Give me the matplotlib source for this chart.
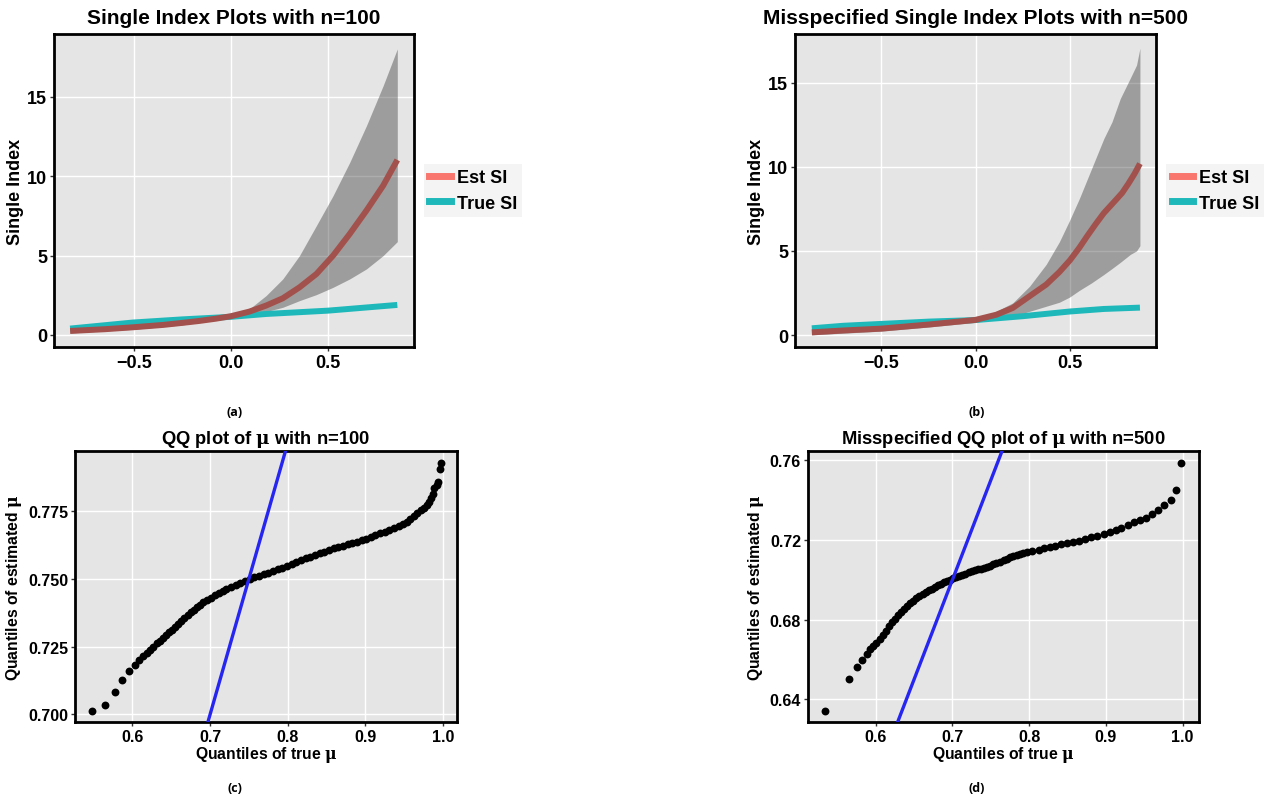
import numpy as np
import matplotlib
matplotlib.use("Agg")
import matplotlib.pyplot as plt
from matplotlib.lines import Line2D

plt.rcParams["font.family"] = ["Liberation Sans", "DejaVu Sans"]
plt.rcParams["font.weight"] = "bold"
plt.rcParams["mathtext.fontset"] = "dejavuserif"

# ---- data: single index plots (a) n=100 ----
a_x = [-0.829, -0.65, -0.506, -0.35, -0.25, -0.164, -0.08, 0.0, 0.095, 0.181, 0.267,
       0.353, 0.44, 0.526, 0.612, 0.698, 0.784, 0.857]
a_est = [0.25, 0.36, 0.48, 0.63, 0.76, 0.88, 1.02, 1.18, 1.47, 1.85, 2.31,
         3.00, 3.84, 5.00, 6.37, 7.84, 9.41, 11.03]
a_band_x = [-0.829, -0.506, -0.25, 0.0, 0.095, 0.181, 0.267, 0.353, 0.44, 0.526, 0.612, 0.698, 0.784, 0.857]
a_upper = [0.38, 0.61, 0.89, 1.25, 1.64, 2.48, 3.53, 5.00, 6.89, 8.78, 10.88, 13.19, 15.71, 18.03]
a_lower = [0.12, 0.35, 0.63, 1.08, 1.28, 1.47, 1.74, 2.16, 2.54, 3.00, 3.53, 4.16, 5.00, 5.88]
a_true_x = [-0.829, -0.506, -0.25, 0.0, 0.181, 0.5, 0.857]
a_true = [0.40, 0.78, 0.98, 1.14, 1.32, 1.53, 1.89]

# ---- data: misspecified single index plots (b) n=500 ----
b_x = [-0.866, -0.7, -0.5, -0.243, 0.0, 0.111, 0.197, 0.286, 0.374, 0.444, 0.5, 0.55,
       0.592, 0.636, 0.679, 0.744, 0.776, 0.809, 0.842, 0.87]
b_est = [0.16, 0.27, 0.38, 0.63, 0.90, 1.21, 1.61, 2.31, 3.00, 3.75, 4.45, 5.20,
         5.90, 6.60, 7.25, 8.05, 8.45, 9.00, 9.60, 10.19]
b_band_x = [-0.866, -0.5, -0.243, 0.0, 0.092, 0.197, 0.286, 0.374, 0.444, 0.497,
            0.549, 0.614, 0.679, 0.722, 0.766, 0.82, 0.852, 0.87]
b_upper = [0.31, 0.53, 0.78, 1.05, 1.31, 1.91, 2.90, 4.20, 5.55, 6.80,
           8.10, 9.89, 11.68, 12.67, 14.06, 15.30, 16.05, 17.05]
b_lower = [0.01, 0.23, 0.48, 0.75, 0.95, 1.11, 1.41, 1.71, 1.95, 2.25,
           2.65, 3.10, 3.60, 3.95, 4.32, 4.80, 5.00, 5.31]
b_true_x = [-0.866, -0.7, -0.5, -0.243, 0.0, 0.25, 0.5, 0.679, 0.87]
b_true = [0.40, 0.55, 0.66, 0.80, 0.89, 1.12, 1.40, 1.55, 1.63]

# ---- data: QQ plot (c) n=100 ----
c_true = [0.548, 0.565, 0.577, 0.586, 0.595, 0.603, 0.609, 0.614, 0.619, 0.623, 0.627, 0.631,
          0.635, 0.639, 0.643, 0.647, 0.651, 0.655, 0.659, 0.663, 0.667, 0.671, 0.675, 0.679,
          0.683, 0.687, 0.691, 0.696, 0.701, 0.706, 0.711, 0.716, 0.721, 0.727, 0.733, 0.739,
          0.745, 0.751, 0.757, 0.763, 0.769, 0.775, 0.781, 0.787, 0.793, 0.799, 0.805, 0.811,
          0.817, 0.823, 0.829, 0.835, 0.841, 0.847, 0.853, 0.859, 0.865, 0.871, 0.877, 0.883,
          0.889, 0.895, 0.901, 0.907, 0.913, 0.919, 0.925, 0.931, 0.937, 0.943, 0.948, 0.953,
          0.958, 0.963, 0.967, 0.971, 0.975, 0.979, 0.982, 0.985, 0.987, 0.989, 0.992, 0.994,
          0.996, 0.997]
c_est = [0.7012, 0.7034, 0.7082, 0.7128, 0.7160, 0.7182, 0.7200, 0.7215, 0.7228, 0.7238, 0.7250, 0.7262,
         0.7272, 0.7282, 0.7293, 0.7303, 0.7313, 0.7323, 0.7334, 0.7345, 0.7355, 0.7366, 0.7376, 0.7386,
         0.7395, 0.7404, 0.7413, 0.7422, 0.7431, 0.7439, 0.7447, 0.7455, 0.7463, 0.7471, 0.7478, 0.7485,
         0.7492, 0.7499, 0.7505, 0.7511, 0.7517, 0.7523, 0.7529, 0.7535, 0.7541, 0.7547, 0.7554, 0.7561,
         0.7568, 0.7575, 0.7582, 0.7588, 0.7594, 0.7600, 0.7606, 0.7612, 0.7617, 0.7622, 0.7627, 0.7632,
         0.7637, 0.7642, 0.7647, 0.7654, 0.7661, 0.7667, 0.7673, 0.7680, 0.7687, 0.7694, 0.7703, 0.7711,
         0.7722, 0.7733, 0.7743, 0.7752, 0.7762, 0.7772, 0.7784, 0.7799, 0.7812, 0.7836, 0.7846, 0.7856,
         0.7903, 0.7928]

# ---- data: misspecified QQ plot (d) n=500 ----
d_true = [0.534, 0.565, 0.576, 0.582, 0.588, 0.593, 0.597, 0.601, 0.605, 0.609, 0.613, 0.617,
          0.621, 0.625, 0.629, 0.633, 0.637, 0.641, 0.645, 0.649, 0.653, 0.657, 0.661, 0.665,
          0.669, 0.673, 0.677, 0.681, 0.685, 0.689, 0.693, 0.697, 0.701, 0.705, 0.709, 0.713,
          0.717, 0.721, 0.725, 0.729, 0.733, 0.737, 0.741, 0.745, 0.749, 0.753, 0.757, 0.762,
          0.767, 0.771, 0.775, 0.779, 0.784, 0.788, 0.792, 0.797, 0.804, 0.813, 0.820, 0.827,
          0.834, 0.841, 0.849, 0.857, 0.865, 0.873, 0.881, 0.889, 0.897, 0.905, 0.913, 0.920,
          0.929, 0.937, 0.945, 0.952, 0.960, 0.968, 0.976, 0.985, 0.991, 0.998]
d_est = [0.6342, 0.6504, 0.6564, 0.6596, 0.6626, 0.6652, 0.6668, 0.6684, 0.6703, 0.6723, 0.6745, 0.6767,
         0.6787, 0.6804, 0.6821, 0.6838, 0.6853, 0.6868, 0.6882, 0.6896, 0.6909, 0.6920, 0.6930, 0.6939,
         0.6948, 0.6956, 0.6965, 0.6973, 0.6981, 0.6988, 0.6995, 0.7001, 0.7007, 0.7013, 0.7019, 0.7025,
         0.7031, 0.7037, 0.7042, 0.7047, 0.7052, 0.7057, 0.7062, 0.7067, 0.7072, 0.7078, 0.7084, 0.7092,
         0.7100, 0.7107, 0.7113, 0.7119, 0.7125, 0.7130, 0.7135, 0.7140, 0.7147, 0.7152, 0.7159, 0.7166,
         0.7172, 0.7179, 0.7184, 0.7191, 0.7197, 0.7206, 0.7214, 0.7221, 0.7232, 0.7242, 0.7252, 0.7262,
         0.7274, 0.7288, 0.7299, 0.7313, 0.7333, 0.7349, 0.7376, 0.7403, 0.7451, 0.7587]

RED = "#F8766D"
RED_DARK = "#A3514C"
TEAL = "#1FB8BA"
BG = "#E5E5E5"

fig = plt.figure(figsize=(12.7, 8.04), dpi=100)


def style_ax(ax, size):
    ax.set_facecolor(BG)
    ax.grid(True, color="white", linewidth=1.0)
    ax.set_axisbelow(True)
    for s in ax.spines.values():
        s.set_linewidth(2.0)
        s.set_color("black")
    ax.tick_params(axis="both", length=3, width=1, color="#333333",
                   labelsize=size, labelcolor="black", pad=2)
    for lab in ax.get_xticklabels() + ax.get_yticklabels():
        lab.set_fontweight("bold")


def si_panel(rect, title, x, est, bx, up, lo, tx, tr, xlim, ylim):
    ax = fig.add_axes(rect)
    # confidence band, then true and estimated single index
    ax.fill_between(bx, lo, up, color="#333333", alpha=0.4, linewidth=0, zorder=2)
    ax.plot(tx, tr, color=TEAL, linewidth=4.3, solid_capstyle="butt", zorder=3)
    ax.plot(x, est, color=RED_DARK, linewidth=4.3, solid_capstyle="butt",
            solid_joinstyle="round", zorder=4)
    ax.set_xlim(*xlim)
    ax.set_ylim(*ylim)
    ax.set_xticks([-0.5, 0.0, 0.5])
    ax.set_yticks([0, 5, 10, 15])
    ax.set_ylabel("Single Index", fontsize=13, fontweight="bold", labelpad=2)
    ax.set_title(title, fontsize=15, fontweight="bold", pad=8)
    style_ax(ax, 13)
    handles = [Line2D([], [], color=RED, linewidth=5), Line2D([], [], color=TEAL, linewidth=5)]
    ax.legend(handles, ["Est SI", "True SI"], loc="center left", bbox_to_anchor=(1.028, 0.5),
              frameon=True, fancybox=False, facecolor="#F2F2F2", edgecolor="none",
              prop={"size": 13, "weight": "bold"}, handlelength=1.2,
              handletextpad=0.3, borderpad=0.3, borderaxespad=0, labelspacing=0.45)
    return ax


def qq_panel(rect, title, xt, ye, xlim, ylim, yticks, yfmt):
    ax = fig.add_axes(rect)
    ax.scatter(xt, ye, s=32, color="black", linewidths=0, zorder=3)
    ax.axline((0.5, 0.5), slope=1, color="#2626F0", linewidth=2.4, zorder=4)
    ax.set_xlim(*xlim)
    ax.set_ylim(*ylim)
    ax.set_xticks([0.6, 0.7, 0.8, 0.9, 1.0])
    ax.set_xticklabels(["0.6", "0.7", "0.8", "0.9", "1.0"])
    ax.set_yticks(yticks)
    ax.set_yticklabels([yfmt.format(v) for v in yticks])
    ax.set_xlabel(r"Quantiles of true $\mathrm{\mu}$", fontsize=11.3, fontweight="bold", labelpad=0)
    ax.set_ylabel(r"Quantiles of estimated $\mathrm{\mu}$", fontsize=11.3, fontweight="bold", labelpad=3)
    ax.set_title(title, fontsize=13.2, fontweight="bold", pad=6)
    style_ax(ax, 11.5)
    return ax


si_panel([54 / 1270, 0.5672, 360 / 1270, 0.3893], "Single Index Plots with n=100",
         a_x, a_est, a_band_x, a_upper, a_lower, a_true_x, a_true,
         (-0.912, 0.943), (-0.76, 18.97))
si_panel([795 / 1270, 0.5672, 361 / 1270, 0.3893], "Misspecified Single Index Plots with n=500",
         b_x, b_est, b_band_x, b_upper, b_lower, b_true_x, b_true,
         (-0.955, 0.955), (-0.71, 17.9))
qq_panel([75 / 1270, 0.1007, 382 / 1270, 0.3371], r"QQ plot of $\mathrm{\mu}$ with n=100",
         c_true, c_est, (0.526, 1.018), (0.6972, 0.7971),
         [0.700, 0.725, 0.750, 0.775], "{:.3f}")
qq_panel([808 / 1270, 0.1007, 391 / 1270, 0.3371], r"Misspecified QQ plot of $\mathrm{\mu}$ with n=500",
         d_true, d_est, (0.5117, 1.0215), (0.6286, 0.7647),
         [0.64, 0.68, 0.72, 0.76], "{:.2f}")

# panel captions
for cx, cy, txt in [(235, 413, "(a)"), (977, 413, "(b)"), (235, 789, "(c)"), (977, 789, "(d)")]:
    fig.text(cx / 1270, 1 - cy / 804, txt, ha="center", va="center", fontsize=9,
             fontweight="bold", family=["Open Sans", "DejaVu Sans"])

fig.savefig("out.png", dpi=100)
